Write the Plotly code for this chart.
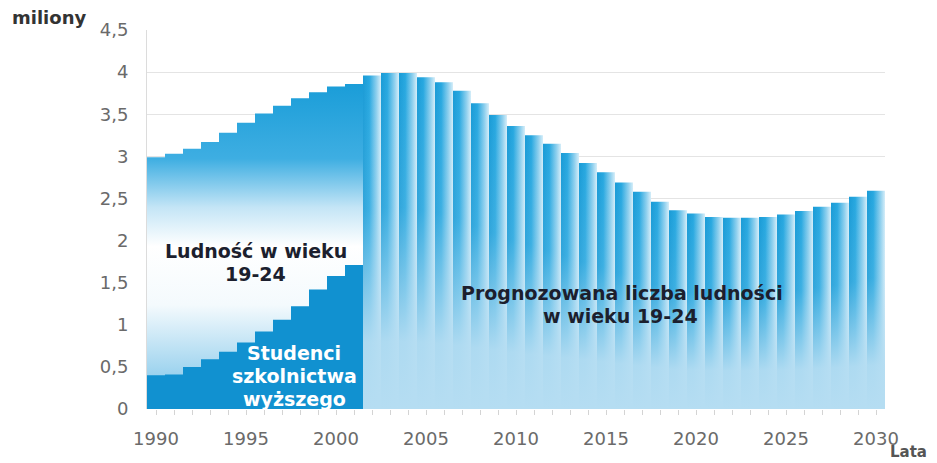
import plotly.graph_objects as go

# ---- data (millions) ----
hist_years = list(range(1990, 2002))
population_hist = [2.99, 3.03, 3.09, 3.17, 3.28, 3.40, 3.51, 3.60, 3.69, 3.76, 3.83, 3.86]
students_hist = [0.40, 0.41, 0.50, 0.59, 0.68, 0.79, 0.92, 1.06, 1.22, 1.42, 1.58, 1.71]

forecast_years = list(range(2002, 2031))
population_forecast = [3.96, 3.99, 3.99, 3.94, 3.88, 3.78, 3.63, 3.49, 3.36, 3.25,
                       3.15, 3.04, 2.92, 2.81, 2.69, 2.58, 2.46, 2.36, 2.32, 2.28,
                       2.27, 2.27, 2.28, 2.31, 2.35, 2.40, 2.45, 2.52, 2.59]

x_tick_vals = [1990, 1995, 2000, 2005, 2010, 2015, 2020, 2025, 2030]
y_tick_vals = [0, 0.5, 1, 1.5, 2, 2.5, 3, 3.5, 4, 4.5]
y_tick_text = ["0", "0,5", "1", "1,5", "2", "2,5", "3", "3,5", "4", "4,5"]

FONT = "DejaVu Sans, Liberation Sans, Arial, sans-serif"

fig = go.Figure()


def step_polygon(years, values):
    xs, ys = [years[0] - 0.5], [0]
    for yr, v in zip(years, values):
        xs += [yr - 0.5, yr + 0.5]
        ys += [v, v]
    xs += [years[-1] + 0.5, years[0] - 0.5]
    ys += [0, 0]
    return xs, ys


# forecast bars: horizontal gradient + vertical fade overlay
for yr, v in zip(forecast_years, population_forecast):
    bx = [yr - 0.5, yr + 0.5, yr + 0.5, yr - 0.5, yr - 0.5]
    by = [0, 0, v, v, 0]
    fig.add_trace(go.Scatter(
        x=bx, y=by, mode="lines", line=dict(width=0), fill="toself",
        fillgradient=dict(type="horizontal",
                          colorscale=[[0, "#1a9bd6"], [0.35, "#28a8e0"], [0.75, "#8fd0ee"],
                                      [1, "#d6eef9"]]),
        hoverinfo="skip", showlegend=False))
    fig.add_trace(go.Scatter(
        x=bx, y=by, mode="lines", line=dict(width=0), fill="toself",
        fillgradient=dict(type="vertical",
                          colorscale=[[0, "rgba(181,221,242,1)"], [0.2, "rgba(181,221,242,0.95)"],
                                      [0.6, "rgba(181,221,242,0.15)"], [1, "rgba(181,221,242,0)"]]),
        hoverinfo="skip", showlegend=False))

# historical population (stepped area with gradient)
px_, py_ = step_polygon(hist_years, population_hist)
fig.add_trace(go.Scatter(
    x=px_, y=py_, mode="lines", line=dict(width=0), fill="toself",
    fillgradient=dict(type="vertical", start=0, stop=max(population_hist),
                      colorscale=[[0, "#6cbfe8"], [0.13, "#a6d7f0"], [0.32, "#f4fafd"],
                                  [0.5, "#ffffff"], [0.62, "#c4e5f6"], [0.77, "#3eaee2"],
                                  [1, "#1a9dd8"]]),
    hoverinfo="skip", showlegend=False))

# students (stepped area)
sx, sy = step_polygon(hist_years, students_hist)
fig.add_trace(go.Scatter(
    x=sx, y=sy, mode="lines", line=dict(width=0), fill="toself",
    fillcolor="#1191d0", hoverinfo="skip", showlegend=False))

annotations = []


def label(text, x, y, color, size):
    annotations.append(dict(text=text, x=x, y=y, xref="x", yref="y", showarrow=False,
                            xanchor="center", yanchor="middle",
                            font=dict(family=FONT, size=size, color=color, weight="bold")))


label("Ludność w wieku", 1995.55, 1.876, "#1c1f2e", 19)
label("19-24", 1995.55, 1.603, "#1c1f2e", 19)
label("Studenci", 1997.67, 0.665, "#ffffff", 19)
label("szkolnictwa", 1997.67, 0.392, "#ffffff", 19)
label("wyższego", 1997.67, 0.119, "#ffffff", 19)
label("Prognozowana liczba ludności", 2015.9, 1.383, "#1c1f2e", 19)
label("w wieku 19-24", 2015.8, 1.110, "#1c1f2e", 19)

annotations.append(dict(text="miliony", x=-0.186, y=1.033, xref="paper", yref="paper",
                        showarrow=False, xanchor="left", yanchor="middle",
                        font=dict(family=FONT, size=18, color="#333333", weight="bold")))
annotations.append(dict(text="Lata", x=1.032, y=-0.113, xref="paper", yref="paper",
                        showarrow=False, xanchor="center", yanchor="middle",
                        font=dict(family=FONT, size=15, color="#555555", weight="bold")))

# page body has an 8px margin, so the figure is sized to fit the window
fig.update_layout(
    width=929, height=455,
    margin=dict(l=139, r=52, t=22, b=54),
    paper_bgcolor="white", plot_bgcolor="white",
    showlegend=False,
    annotations=annotations,
    xaxis=dict(range=[1989.5, 2030.5], tickvals=x_tick_vals, showgrid=False,
               zeroline=False, showline=False, ticks="outside", ticklen=5,
               tickcolor="#d4d4d4", ticklabelstandoff=8,
               minor=dict(dtick=1, ticks="outside", ticklen=5, tickcolor="#d4d4d4", showgrid=False),
               tickfont=dict(family=FONT, size=18, color="#6a6a6a"), fixedrange=True),
    yaxis=dict(range=[0, 4.5], tickvals=y_tick_vals, ticktext=y_tick_text,
               showgrid=True, gridcolor="#e4e4e4", gridwidth=1, zeroline=False,
               showline=True, linecolor="#dcdcdc", ticks="", ticklabelstandoff=14,
               tickfont=dict(family=FONT, size=18, color="#6a6a6a"), fixedrange=True),
)

fig.write_html("out.html")
